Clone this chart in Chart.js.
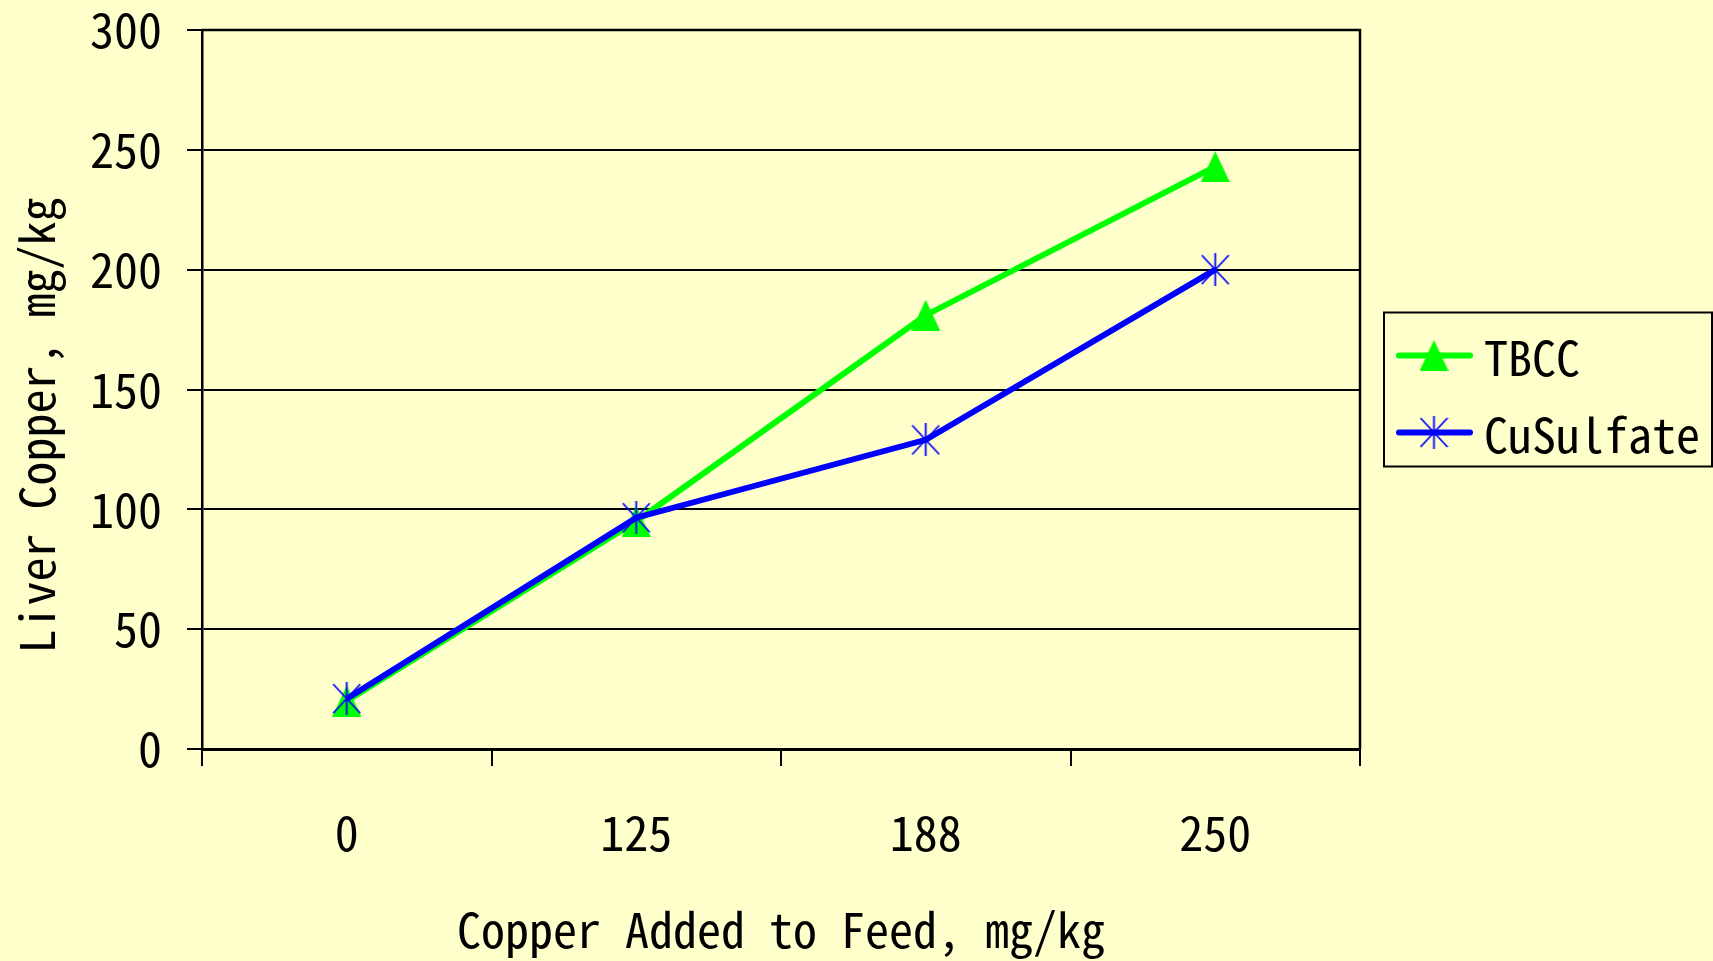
<!DOCTYPE html>
<html>
<head>
<meta charset="utf-8">
<style>
  html, body { margin: 0; padding: 0; background: #FFFFCC; }
  #wrap { width: 1713px; height: 961px; }
</style>
<script src="https://cdn.jsdelivr.net/npm/chart.js@4.4.1/dist/chart.umd.min.js"></script>
</head>
<body>
<div id="wrap"><canvas id="c" width="1713" height="961"></canvas></div>
<script>
const categories = ['0', '125', '188', '250'];
const tbccValues = [20, 95, 181, 243];
const cuSulfateValues = [21, 96.5, 129, 200];
const seriesNames = ['TBCC', 'CuSulfate'];
const yTitle = 'Liver Copper, mg/kg   ';
const xTitle = 'Copper Added to Feed, mg/kg';

const FONT_FAMILY = '"Noto Sans Mono CJK JP", "Liberation Sans Narrow", "Liberation Mono", monospace';
const BG = '#FFFFCC';
const GREEN = '#00FF00';
const BLUE = '#0000FF';

function makeTriangle(w, h) {
  const c = document.createElement('canvas');
  c.width = w; c.height = h;
  const g = c.getContext('2d');
  g.fillStyle = GREEN;
  g.beginPath();
  g.moveTo(w / 2, 0);
  g.lineTo(w, h);
  g.lineTo(0, h);
  g.closePath();
  g.fill();
  return c;
}
function makeStar(w, h) {
  const c = document.createElement('canvas');
  c.width = w; c.height = h;
  const g = c.getContext('2d');
  g.strokeStyle = BLUE;
  g.lineWidth = 1.8;
  g.beginPath();
  g.moveTo(w / 2, 0); g.lineTo(w / 2, h);
  g.moveTo(1, 2); g.lineTo(w - 1, h - 2);
  g.moveTo(1, h - 2); g.lineTo(w - 1, 2);
  g.stroke();
  return c;
}
const triImg = makeTriangle(29, 31);
const starImg = makeStar(29, 33);

const bgPlugin = {
  id: 'bg',
  beforeDraw(chart) {
    const ctx = chart.ctx;
    ctx.save();
    ctx.fillStyle = BG;
    ctx.fillRect(0, 0, chart.width, chart.height);
    ctx.restore();
  },
  afterDraw(chart) {
    const ctx = chart.ctx;
    const a = chart.chartArea;
    ctx.save();
    ctx.strokeStyle = '#000';
    ctx.lineWidth = 2.5;
    ctx.beginPath();
    ctx.moveTo(a.left, a.top);
    ctx.lineTo(a.right, a.top);
    ctx.lineTo(a.right, a.bottom);
    ctx.stroke();

    // legend
    const lx = a.right + 24, lw = 328, lh = 154;
    const ly = (a.top + a.bottom) / 2 - lh / 2;
    ctx.lineWidth = 2;
    ctx.strokeRect(lx, ly, lw, lh);
    const imgs = [triImg, starImg];
    const cols = [GREEN, BLUE];
    const rows = [ly + 43, ly + 120];
    chart.data.datasets.forEach((ds, i) => {
      const y = rows[i];
      ctx.strokeStyle = cols[i];
      ctx.lineWidth = 6;
      ctx.lineCap = 'round';
      ctx.beginPath();
      ctx.moveTo(lx + 15, y);
      ctx.lineTo(lx + 86, y);
      ctx.stroke();
      const im = imgs[i];
      ctx.drawImage(im, lx + 50 - im.width / 2, y - im.height / 2);
      ctx.fillStyle = '#000';
      ctx.font = '48px ' + FONT_FAMILY;
      ctx.textBaseline = 'middle';
      ctx.textAlign = 'left';
      ctx.fillText(ds.label, lx + 100, y + 2);
    });
    ctx.restore();
  }
};

new Chart(document.getElementById('c'), {
  type: 'line',
  data: {
    labels: categories,
    datasets: [
      {
        label: seriesNames[0],
        data: tbccValues,
        borderColor: GREEN,
        backgroundColor: GREEN,
        borderWidth: 6,
        pointStyle: triImg,
        pointRadius: 15,
        order: 1,
        tension: 0
      },
      {
        label: seriesNames[1],
        data: cuSulfateValues,
        borderColor: BLUE,
        backgroundColor: BLUE,
        borderWidth: 6,
        pointStyle: starImg,
        pointRadius: 15,
        order: 0,
        tension: 0
      }
    ]
  },
  options: {
    responsive: false,
    animation: false,
    devicePixelRatio: 1,
    layout: { padding: { top: 30, right: 353, bottom: 0, left: 0 } },
    plugins: {
      legend: { display: false },
      tooltip: { enabled: false }
    },
    scales: {
      x: {
        type: 'category',
        offset: true,
        grid: {
          offset: true,
          drawOnChartArea: false,
          drawTicks: true,
          tickLength: 17,
          color: '#000',
          lineWidth: 2
        },
        border: { display: true, color: '#000', width: 3 },
        ticks: {
          color: '#000',
          padding: 38,
          maxRotation: 0,
          font: { family: FONT_FAMILY, size: 48 }
        },
        title: {
          display: true,
          text: xTitle,
          color: '#000',
          padding: { top: 0, bottom: 2 },
          font: { family: FONT_FAMILY, size: 48 }
        },
        afterFit(scale) {
          scale.height = 961 - 749;
          scale.paddingLeft = 0; scale.paddingRight = 0;
        }
      },
      y: {
        min: 0,
        max: 300,
        ticks: {
          stepSize: 50,
          color: '#000',
          padding: 25,
          font: { family: FONT_FAMILY, size: 48 }
        },
        grid: {
          color: '#000',
          lineWidth: 2,
          tickLength: 15,
          drawTicks: true
        },
        border: { display: true, color: '#000', width: 2.5 },
        title: {
          display: true,
          text: yTitle,
          color: '#000',
          padding: { top: 8, bottom: 0 },
          font: { family: FONT_FAMILY, size: 48 }
        },
        afterFit(scale) {
          scale.width = 202;
          scale.paddingTop = 0; scale.paddingBottom = 0;
        }
      }
    }
  },
  plugins: [bgPlugin]
});
</script>
</body>
</html>
